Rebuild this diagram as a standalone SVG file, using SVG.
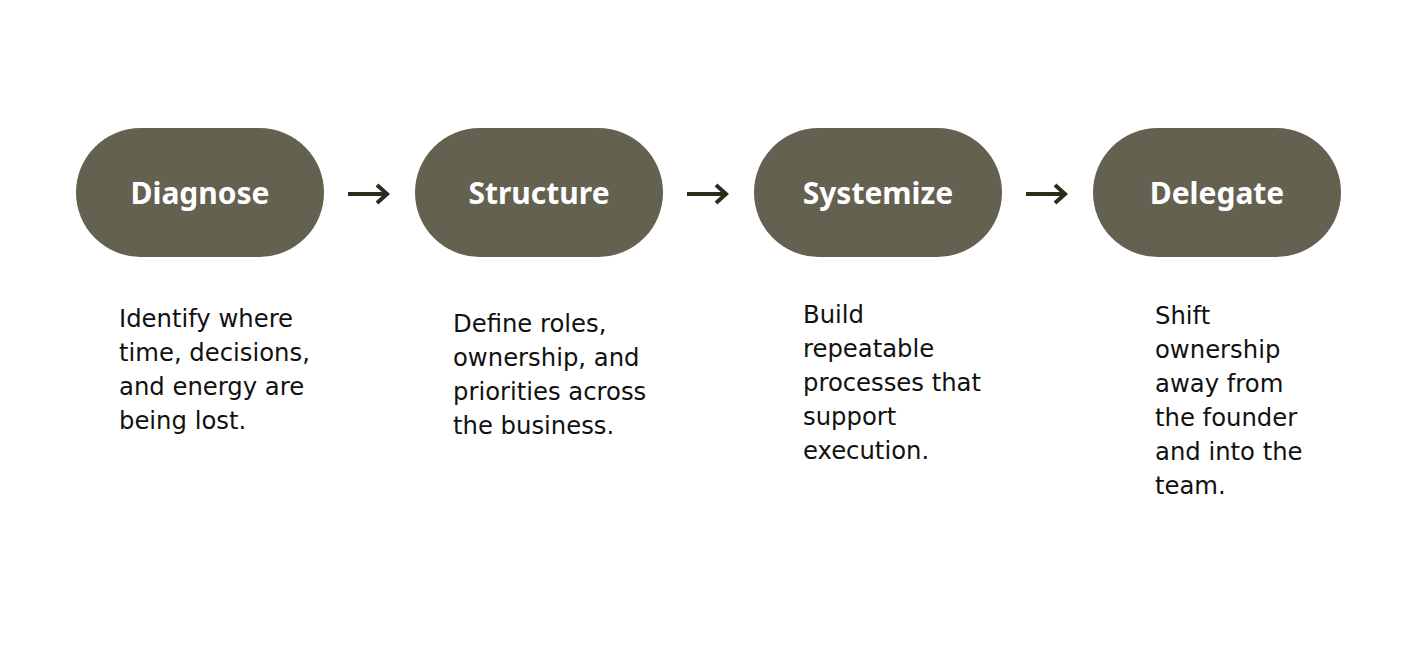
<svg xmlns="http://www.w3.org/2000/svg" width="1418" height="658" viewBox="0 0 1418 658">
<defs>
<style>
.pill{fill:#646150}
.title{font-family:"Noto Sans","Open Sans",sans-serif;font-weight:700;font-size:30px;fill:#ffffff;text-anchor:middle}
.body{font-family:"DejaVu Sans","Noto Sans",sans-serif;font-size:24.3px;fill:#111111}
.conn{stroke:#2f2b1a;stroke-width:4;fill:none}
.head{stroke:#2f2b1a;stroke-width:4;fill:none;stroke-linecap:butt;stroke-linejoin:miter}
</style>
</defs>
<rect width="1418" height="658" fill="#ffffff"/>
<g id="connectors">
<line class="conn" x1="348" y1="194" x2="388" y2="194"/><polyline class="head" points="377,185 387,194 377,203"/>
<line class="conn" x1="687" y1="194" x2="727" y2="194"/><polyline class="head" points="716,185 726,194 716,203"/>
<line class="conn" x1="1026" y1="194" x2="1066" y2="194"/><polyline class="head" points="1055,185 1065,194 1055,203"/>
</g>
<g id="diagnose">
<rect class="pill" x="76" y="128" width="248" height="129" rx="64.5"/>
<text class="title" x="200" y="204">Diagnose</text>
<text class="body" x="119"><tspan x="119" y="327">Identify where</tspan><tspan x="119" y="361">time, decisions,</tspan><tspan x="119" y="395">and energy are</tspan><tspan x="119" y="429">being lost.</tspan></text>
</g>
<g id="structure">
<rect class="pill" x="415" y="128" width="248" height="129" rx="64.5"/>
<text class="title" x="539" y="204">Structure</text>
<text class="body"><tspan x="453" y="332">Define roles,</tspan><tspan x="453" y="366">ownership, and</tspan><tspan x="453" y="400">priorities across</tspan><tspan x="453" y="434">the business.</tspan></text>
</g>
<g id="systemize">
<rect class="pill" x="754" y="128" width="248" height="129" rx="64.5"/>
<text class="title" x="878" y="204">Systemize</text>
<text class="body"><tspan x="803" y="323">Build</tspan><tspan x="803" y="357">repeatable</tspan><tspan x="803" y="391">processes that</tspan><tspan x="803" y="425">support</tspan><tspan x="803" y="459">execution.</tspan></text>
</g>
<g id="delegate">
<rect class="pill" x="1093" y="128" width="248" height="129" rx="64.5"/>
<text class="title" x="1217" y="204">Delegate</text>
<text class="body"><tspan x="1155" y="324">Shift</tspan><tspan x="1155" y="358">ownership</tspan><tspan x="1155" y="392">away from</tspan><tspan x="1155" y="426">the founder</tspan><tspan x="1155" y="460">and into the</tspan><tspan x="1155" y="494">team.</tspan></text>
</g>
</svg>
